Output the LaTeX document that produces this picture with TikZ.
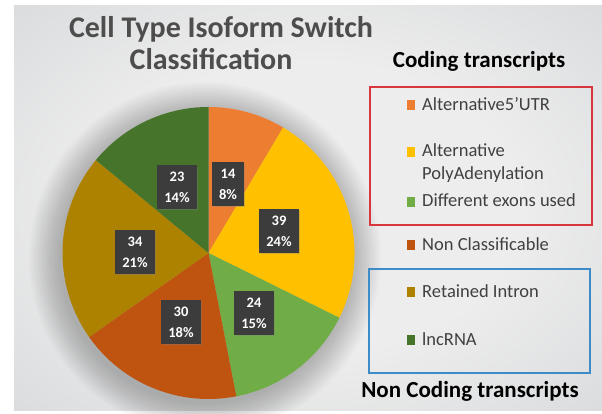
\documentclass[tikz,border=0pt]{standalone}
\usepackage{fontspec}
\setmainfont{Carlito}
\usetikzlibrary{shadows}

% slice colours
\definecolor{cOrange}{HTML}{ED7D31}
\definecolor{cYellow}{HTML}{FFC000}
\definecolor{cLight}{HTML}{70AD47}
\definecolor{cRust}{HTML}{BF5410}
\definecolor{cOlive}{HTML}{AD8200}
\definecolor{cDark}{HTML}{46742B}
% frame, text and backdrop colours
\definecolor{cRed}{HTML}{D8363F}
\definecolor{cBlue}{HTML}{3D8CC8}
\definecolor{cTitle}{HTML}{4D4D4D}
\definecolor{cText}{HTML}{404040}
\definecolor{cLabel}{HTML}{3C3C3C}
\definecolor{bgin}{HTML}{EDEDED}
\definecolor{bgout}{HTML}{CBCED1}

% soft backdrop
\pgfdeclareradialshading{bgshade}{\pgfpointorigin}{color(0bp)=(bgin); color(18bp)=(bgin); color(50bp)=(bgout)}

\tikzset{
  valbox/.style={fill=cLabel, text=white, align=center, inner xsep=7pt, inner ysep=6.5pt,
    font=\fontsize{14.5}{21}\selectfont\bfseries,
    drop shadow={shadow xshift=1.5pt, shadow yshift=-1.5pt, opacity=0.35}},
  legtext/.style={anchor=base west, text=cText, inner sep=0pt, font=\fontsize{18.5}{23}\selectfont},
  heading/.style={anchor=base, text=black, inner sep=0pt, font=\fontsize{23}{28}\selectfont\bfseries},
  titletext/.style={anchor=base, text=cTitle, inner sep=0pt, font=\fontsize{30}{36}\selectfont\bfseries}
}

\begin{document}
\begin{tikzpicture}[x=1pt,y=-1pt]
\useasboundingbox (0,0) rectangle (602,414);
\fill[white] (0,0) rectangle (602,414);
\shade[shading=bgshade] (14,6) rectangle (602,410);

% title
\node[titletext] (t1) at (221,38) {Cell Type Isoform Switch};
\node[titletext] (t2) at (211,70) {Classification};

% soft halo behind the pie, built from faint stacked discs
\foreach \r in {146,148,...,176}
  \fill[black, opacity=0.014] (205,258) circle (\r pt);

% pie chart: 14, 39, 24, 30, 34, 23 (total 164), clockwise from the top
\coordinate (c) at (208.5,253);
\fill[cOrange] (c) -- ++(90:146pt)      arc[start angle=90,       end angle=59.268,   radius=146pt] -- cycle;
\fill[cYellow] (c) -- ++(59.268:146pt)  arc[start angle=59.268,   end angle=-26.341,  radius=146pt] -- cycle;
\fill[cLight]  (c) -- ++(-26.341:146pt) arc[start angle=-26.341,  end angle=-79.024,  radius=146pt] -- cycle;
\fill[cRust]   (c) -- ++(-79.024:146pt) arc[start angle=-79.024,  end angle=-144.878, radius=146pt] -- cycle;
\fill[cOlive]  (c) -- ++(-144.878:146pt) arc[start angle=-144.878, end angle=-219.512, radius=146pt] -- cycle;
\fill[cDark]   (c) -- ++(140.488:146pt) arc[start angle=140.488,  end angle=90,       radius=146pt] -- cycle;

% value labels
\node[valbox] (v1) at (228,184) {14\\8\%};
\node[valbox] (v2) at (279,231) {39\\24\%};
\node[valbox] (v3) at (254,313) {24\\15\%};
\node[valbox] (v4) at (181,322) {30\\18\%};
\node[valbox] (v5) at (135,252) {34\\21\%};
\node[valbox] (v6) at (177,187) {23\\14\%};

% legend
\node[heading] (hc) at (479,68) {Coding transcripts};
\draw[cRed, line width=1.1pt] (370,87) rectangle (592,225);
\draw[cBlue, line width=1.1pt] (369,269) rectangle (590,373);
\node[heading] (hn) at (470,397) {Non Coding transcripts};

\fill[cOrange] (407,100) rectangle (415,110);
\node[legtext] (e1) at (422,111) {Alternative5'UTR};
\fill[cYellow] (407,147) rectangle (415,157);
\node[legtext] (e2) at (422,157) {Alternative};
\node[legtext] (e2b) at (422,180) {PolyAdenylation};
\fill[cLight] (407,197) rectangle (415,207);
\node[legtext] (e3) at (422,207) {Different exons used};
\fill[cRust] (407,240) rectangle (415,250);
\node[legtext] (e4) at (422,250) {Non Classificable};
\fill[cOlive] (407,287) rectangle (415,297);
\node[legtext] (e5) at (422,297) {Retained Intron};
\fill[cDark] (407,335) rectangle (415,345);
\node[legtext] (e6) at (422,345) {lncRNA};
\end{tikzpicture}
\end{document}
